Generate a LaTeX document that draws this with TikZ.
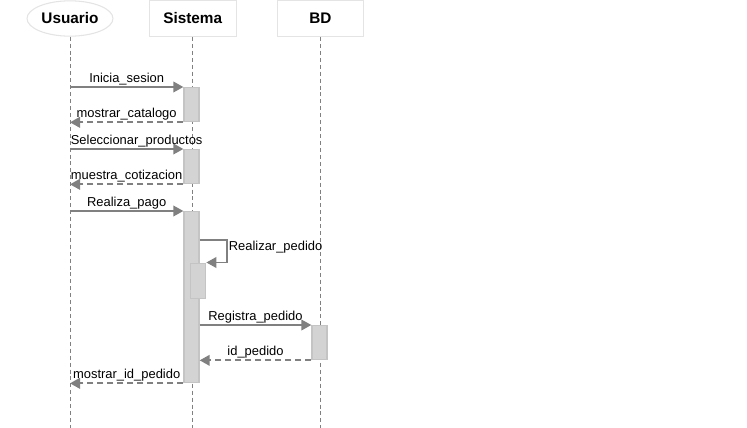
\documentclass[tikz,border=0pt]{standalone}
\usepackage{fontspec}
\setmainfont{Liberation Sans}
\usetikzlibrary{shapes.geometric, arrows.meta, positioning}
\definecolor{linegray}{HTML}{808080}
\definecolor{actfill}{HTML}{D3D3D3}
\definecolor{actline}{HTML}{C4C4C4}
\definecolor{headline}{HTML}{E4E4E4}

\begin{document}
\begin{tikzpicture}[
    x=0.75pt, y=-0.75pt,
    node distance=27pt,
    actor/.style={ellipse, draw=headline, thick, fill=white, minimum width=64.5pt, minimum height=26.5pt, inner sep=0pt, font=\fontsize{11.5}{13}\selectfont\bfseries},
    head/.style={rectangle, draw=headline, thick, fill=white, minimum width=65pt, minimum height=27pt, inner sep=0pt, font=\fontsize{11.5}{13}\selectfont\bfseries},
    lifeline/.style={draw=linegray, line width=0.6pt, dash pattern=on 3pt off 2.2pt},
    act/.style={rectangle, draw=actline, line width=1pt, fill=actfill, minimum width=11.25pt, inner sep=0pt, anchor=north},
    msg/.style={draw=linegray, line width=1.3pt, -{Triangle[length=7.5pt, width=8pt]}},
    ret/.style={msg, dash pattern=on 4.5pt off 3pt},
    lbl/.style={font=\fontsize{9.7}{12}\selectfont, inner sep=1pt, text=black}
]
    \useasboundingbox (0,0) rectangle (747,428);
    \coordinate (bottom) at (0,428);

    % Participants
    \node[actor] (usr) at (70,18.5) {Usuario};
    \node[head, right=26.5pt of usr] (sis) {Sistema};
    \node[head, right=30pt of sis] (bd) {BD};

    % Lifelines
    \draw[lifeline] (usr.south) -- (usr.south |- bottom);
    \draw[lifeline] (sis.south) -- (sis.south |- bottom);
    \draw[lifeline] (bd.south) -- (bd.south |- bottom);

    % Activations
    \node[act, minimum height=25.5pt] (a1) at (191.5,87) {};
    \node[act, minimum height=25.5pt] (a2) at (191.5,149) {};
    \node[act, minimum height=128.25pt] (a3) at (191.5,211) {};
    \node[act, minimum height=26.25pt] (a4) at (198.2,262.5) {};
    \node[act, minimum height=25.5pt] (a5) at (319.5,325) {};

    % Messages
    \draw[msg] (usr |- a1.north) -- node[lbl, above] {Inicia\_sesion} (a1.north west);
    \draw[ret] (a1.south west) -- node[lbl, above] {mostrar\_catalogo} (usr |- a1.south);
    \draw[msg] (usr |- a2.north) -- node[lbl, above right, pos=0, xshift=-1pt] {Seleccionar\_productos} (a2.north west);
    \draw[ret] (a2.south west) -- node[lbl, above] {muestra\_cotizacion} (usr |- a2.south);
    \draw[msg] (usr |- a3.north) -- node[lbl, above] {Realiza\_pago} (a3.north west);
    \draw[msg] ([yshift=-21.75pt]a3.north east) -- ++(27,0) |- node[lbl, right, pos=0.15] {Realizar\_pedido} (a4.north east);
    \draw[msg] (a3.east |- a5.north) -- node[lbl, above] {Registra\_pedido} (a5.north west);
    \draw[ret] (a5.south west) -- node[lbl, above] {id\_pedido} (a3.east |- a5.south);
    \draw[ret] (a3.south west) -- node[lbl, above] {mostrar\_id\_pedido} (usr |- a3.south);

\end{tikzpicture}
\end{document}
